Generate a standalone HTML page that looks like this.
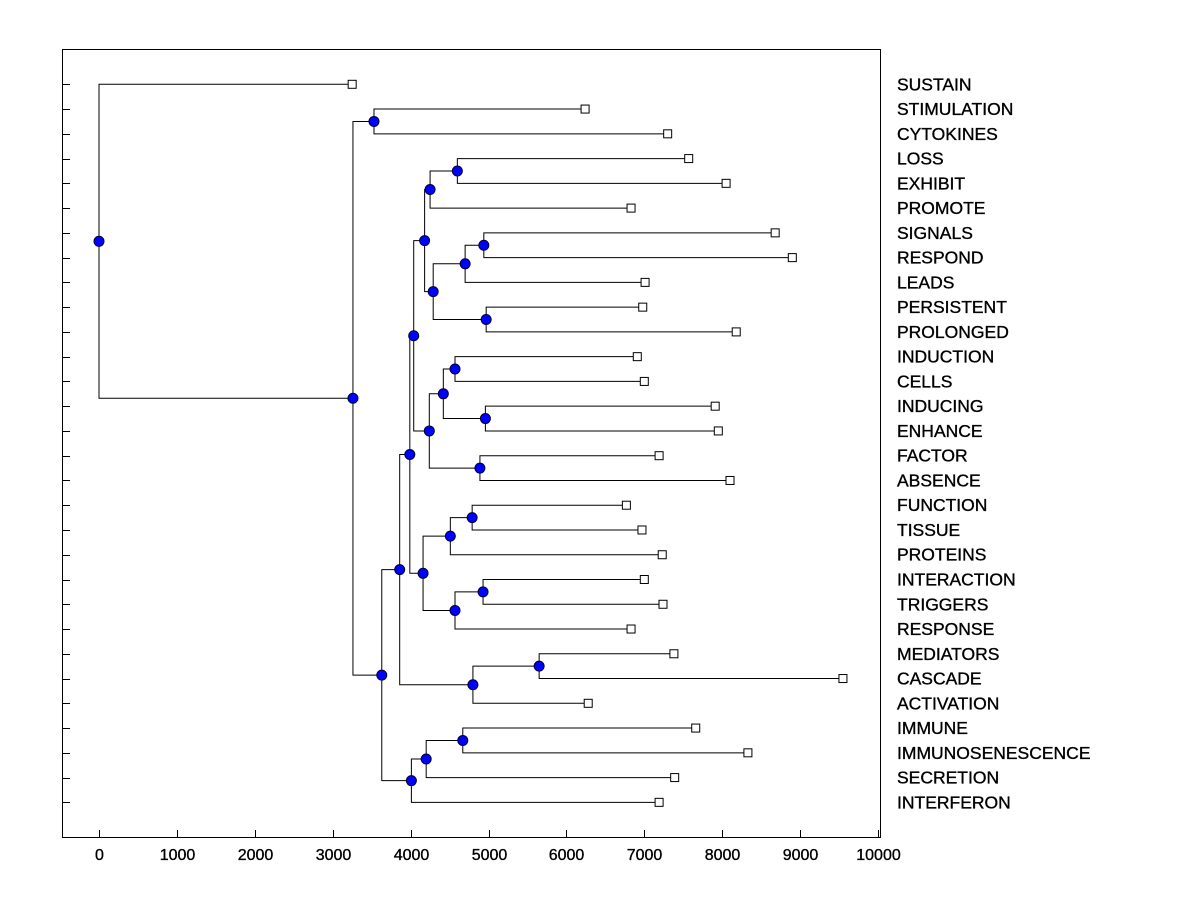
<!DOCTYPE html>
<html><head><meta charset="utf-8"><style>
html,body{margin:0;padding:0;background:#fff;}
svg{display:block;font-family:"Liberation Sans",Arial,sans-serif;}
</style></head><body>
<svg id="chart" width="1200" height="900">
<rect x="62.5" y="49.5" width="818" height="788" fill="none" stroke="#000" stroke-width="1"/>
<g id="axis"></g>
<g id="rowticks"></g>
<g id="links"></g>
<g id="nodes"></g>
<g id="labels"></g>
</svg>
<script>
const leafNames = ["SUSTAIN","STIMULATION","CYTOKINES","LOSS","EXHIBIT","PROMOTE","SIGNALS","RESPOND","LEADS","PERSISTENT","PROLONGED","INDUCTION","CELLS","INDUCING","ENHANCE","FACTOR","ABSENCE","FUNCTION","TISSUE","PROTEINS","INTERACTION","TRIGGERS","RESPONSE","MEDIATORS","CASCADE","ACTIVATION","IMMUNE","IMMUNOSENESCENCE","SECRETION","INTERFERON"];
const leafValues = [3250,6240,7300,7570,8050,6830,8680,8900,7010,6980,8180,6910,7000,7910,7950,7190,8100,6770,6970,7230,7000,7240,6830,7380,9550,6280,7660,8330,7390,7190];
const xTicks = [0,1000,2000,3000,4000,5000,6000,7000,8000,9000,10000];
const mergeIds = ["root","A","B","C","D","F","H","J","L","N","M","O","Q","P","K","R","T","U","S","I","V","X","W","Y","G","Z","E","AA","AB"];
const mergeValues = [0,3260,3530,3630,3860,3990,4040,4180,4250,4600,4290,4700,4940,4970,4240,4420,4570,4960,4890,4160,4510,4790,4570,4930,4800,5650,4010,4200,4670];
const mergeLeft = [0,"B","1","D","F","H","J","L","N","3","O","Q","6","9","R","T","11","13","15","V","X","17","Y","20","Z","23","AA","AB","26"];
const mergeRight = ["A","C","2","E","G","I","K","M","5","4","P","8","7","10","S","U","12","14","16","W","19","18","22","21","25","24","29","28","27"];

const NS="http://www.w3.org/2000/svg";
const X0=99, PX=77.9/1000, ROW0=84.3, ROWH=24.76;
const sx=v=>X0+v*PX;
const sy=i=>ROW0+i*ROWH;
function mk(tag,attrs,parent){const e=document.createElementNS(NS,tag);for(const k in attrs)e.setAttribute(k,attrs[k]);parent.appendChild(e);return e;}
const gAxis=document.getElementById('axis'),gRow=document.getElementById('rowticks'),gL=document.getElementById('links'),gN=document.getElementById('nodes'),gT=document.getElementById('labels');

xTicks.forEach(t=>{
  const x=Math.round(sx(t))+0.5;
  const l=mk('line',{x1:x,x2:x,y1:830,y2:838,stroke:'#000'},gAxis);
  
  
  const tx=mk('text',{x:x,y:860,'text-anchor':'middle','font-size':'16',stroke:'#000','stroke-width':'0.35'},gAxis);
  tx.textContent=t;
  
  
});
leafNames.forEach((n,i)=>{
  const y=Math.round(sy(i))+0.5;
  const l=mk('line',{x1:62,x2:70,y1:y,y2:y,stroke:'#000'},gRow);
  
  
});

const info={};
function resolve(c){
  if(/^\d+$/.test(String(c))){const i=+c;return {x:sx(leafValues[i]),y:sy(i)};}
  return compute(c);
}
function compute(id){
  if(info[id])return info[id];
  const k=mergeIds.indexOf(id);
  const a=resolve(mergeLeft[k]), b=resolve(mergeRight[k]);
  const r={x:sx(mergeValues[k]),y:(a.y+b.y)/2,a:a,b:b};
  info[id]=r;return r;
}
mergeIds.forEach(id=>{
  const n=compute(id);
  const p=`M${n.a.x},${n.a.y}H${n.x}V${n.b.y}H${n.b.x}`;
  const path=mk('path',{d:p,fill:'none',stroke:'#000','stroke-width':1},gL);
  
  
});
leafNames.forEach((n,i)=>{
  const x=sx(leafValues[i]),y=sy(i);
  const r=mk('rect',{x:x-4,y:y-4,width:8,height:8,fill:'#fff',stroke:'#000'},gN);
  
  
  const t=mk('text',{x:897,y:y+6,'font-size':'17.5',stroke:'#000','stroke-width':'0.35'},gT);
  t.textContent=n;
  
  
});
mergeIds.forEach(id=>{
  const n=info[id];
  const c=mk('circle',{cx:n.x,cy:n.y,r:5,fill:'#0000ff',stroke:'#000033','stroke-width':1},gN);
  
  
});
</script>
</body></html>
